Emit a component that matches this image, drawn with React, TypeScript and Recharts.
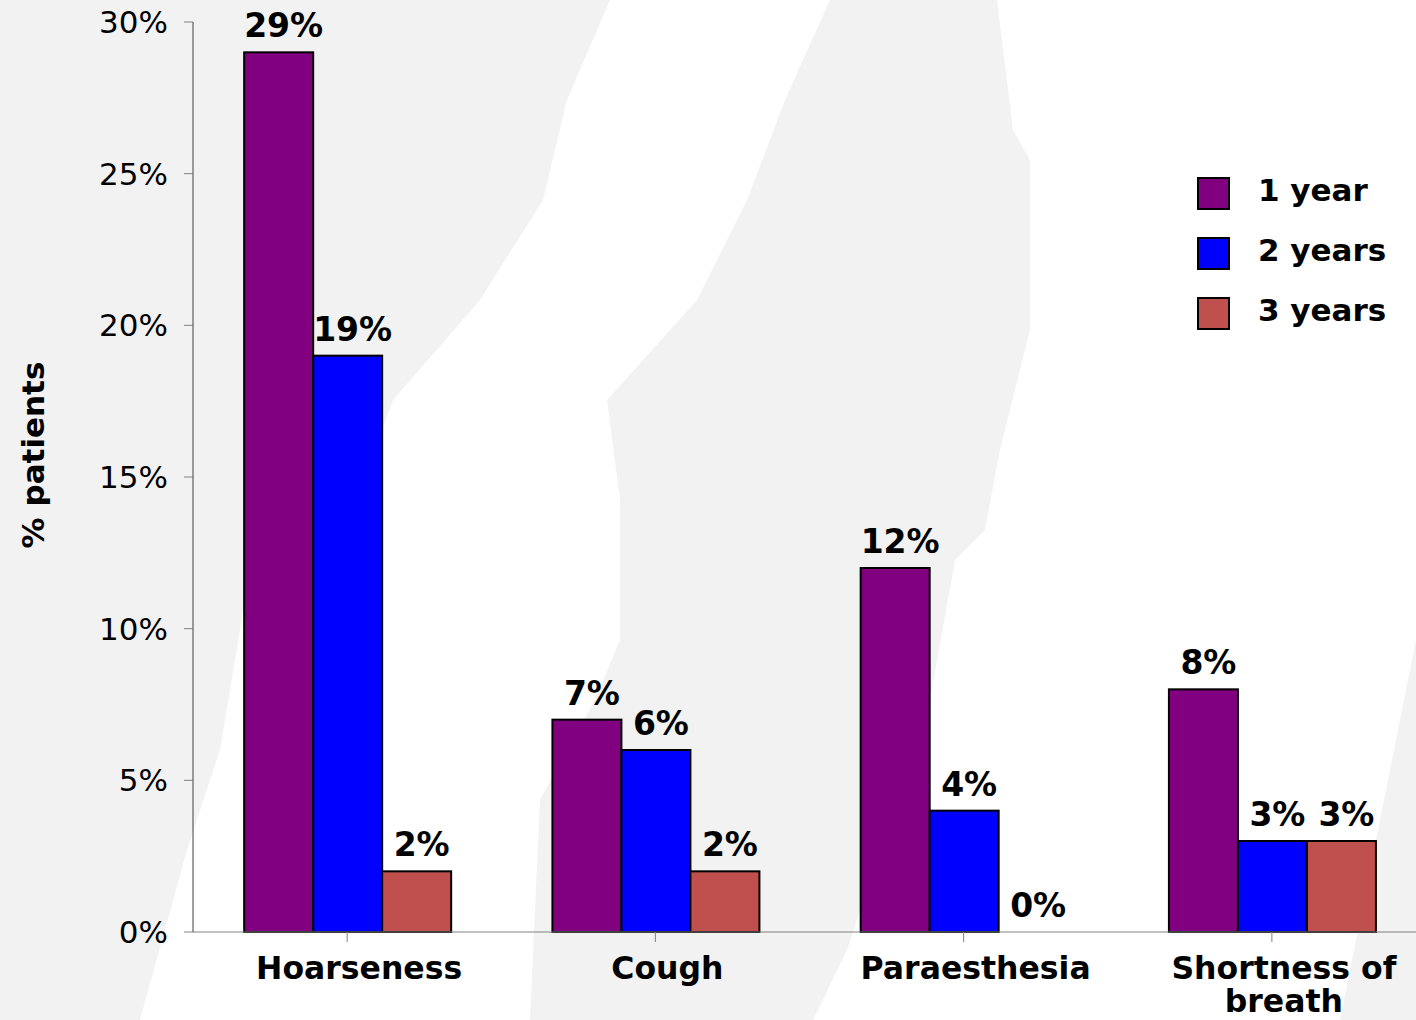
import React from "react";
import { BarChart, Bar, XAxis, YAxis } from "recharts";

const categories = ["Hoarseness", "Cough", "Paraesthesia", "Shortness of breath"];
const oneYear = [29, 7, 12, 8];
const twoYears = [19, 6, 4, 3];
const threeYears = [2, 2, 0, 3];
const yTicks = [0, 5, 10, 15, 20, 25, 30];

const series = [
  { key: "y1", name: "1 year", color: "#800080" },
  { key: "y2", name: "2 years", color: "#0000ff" },
  { key: "y3", name: "3 years", color: "#c0504d" },
];

const data = categories.map((c, i) => ({
  name: c,
  y1: oneYear[i],
  y2: twoYears[i],
  y3: threeYears[i],
}));

const FONT = "'DejaVu Sans', Verdana, sans-serif";

// long labels wrap before the last word
function splitLabel(s: string): string[] {
  if (s.length <= 14) return [s];
  const i = s.lastIndexOf(" ");
  return [s.slice(0, i), s.slice(i + 1)];
}

function CategoryTick(props: any) {
  const { x, y, payload } = props;
  const lines = splitLabel(String(payload.value));
  return (
    <text
      x={x + 12}
      y={y + 35}
      textAnchor="middle"
      fontFamily={FONT}
      fontWeight="bold"
      fontSize={31.5}
      fill="#000"
    >
      {lines.map((l, i) => (
        <tspan key={i} x={x + 12} dy={i === 0 ? 0 : 33}>
          {l}
        </tspan>
      ))}
    </text>
  );
}

// bar + value label drawn together so a 0% bar still gets its label
function makeShape(dataKey: string) {
  return function BarWithLabel(props: any) {
    const { x, y, width, height, fill, payload } = props;
    const value = payload[dataKey];
    const base = Number(y) + Number(height);
    const top = value > 0 ? Number(y) : base;
    return (
      <g>
        {value > 0 && (
          <rect x={x} y={y} width={width} height={height} fill={fill} stroke="#000" strokeWidth={2} />
        )}
        <text
          x={Number(x) + Number(width) / 2 + 5}
          y={top - 15}
          textAnchor="middle"
          fontFamily={FONT}
          fontWeight="bold"
          fontSize={33}
          fill="#000"
        >
          {value}%
        </text>
      </g>
    );
  };
}

function AxisTitle(props: any) {
  const { viewBox } = props;
  const cy = viewBox.y + viewBox.height / 2 - 22;
  return (
    <text
      x={33}
      y={cy}
      transform={`rotate(-90, 33, ${cy})`}
      textAnchor="middle"
      dominantBaseline="central"
      fontFamily={FONT}
      fontWeight="bold"
      fontSize={31}
      fill="#000"
    >
      % patients
    </text>
  );
}

function LegendBox() {
  return (
    <div
      style={{
        position: "absolute",
        left: 1197,
        top: 160,
        fontFamily: FONT,
        fontWeight: "bold",
        fontSize: 31,
        color: "#000",
      }}
    >
      {series.map((s) => (
        <div key={s.key} style={{ display: "flex", alignItems: "center", height: 60 }}>
          <div
            style={{
              width: 29,
              height: 29,
              background: s.color,
              border: "2px solid #000",
              marginRight: 28,
              marginTop: 6,
            }}
          />
          <span>{s.name}</span>
        </div>
      ))}
    </div>
  );
}

function Backdrop() {
  return (
    <svg width={1416} height={1020} style={{ position: "absolute", left: 0, top: 0 }}>
      <rect width={1416} height={1020} fill="#ffffff" />
      <polygon
        points="0,0 610,0 567,100 543,200 480,300 393,400 380,435 245,600 220,750 187,850 140,1020 0,1020"
        fill="#f2f2f2"
      />
      <polygon
        points="830,0 997,0 1013,130 1030,160 1030,330 1000,450 985,530 955,560 930,700 880,850 847,950 813,1020 530,1020 540,800 595,700 620,640 620,500 607,400 697,300 747,200 785,100"
        fill="#f2f2f2"
      />
      <polygon points="1416,640 1416,1020 1340,1020" fill="#f2f2f2" />
    </svg>
  );
}

export default function App() {
  return (
    <div
      style={{
        position: "fixed",
        left: 0,
        top: 0,
        width: 1416,
        height: 1020,
        overflow: "hidden",
        background: "#fff",
      }}
    >
      <Backdrop />
      <div style={{ position: "absolute", left: 0, top: 0 }}>
        <BarChart
          width={1440}
          height={1020}
          data={data}
          margin={{ top: 22, right: 14, left: 0, bottom: 8 }}
          barCategoryGap="16.6%"
          barGap={0}
        >
          <XAxis
            dataKey="name"
            height={80}
            stroke="#808080"
            tickSize={10}
            tickLine={{ stroke: "#808080" }}
            tick={<CategoryTick />}
            interval={0}
          />
          <YAxis
            width={193}
            domain={[0, 30]}
            ticks={yTicks}
            tickFormatter={(v: number) => `${v}%`}
            stroke="#404040"
            tickSize={9}
            tickMargin={16}
            tickLine={{ stroke: "#808080" }}
            tick={{ fontFamily: FONT, fontSize: 31, fill: "#000" }}
            label={<AxisTitle />}
          />
          {series.map((s) => (
            <Bar
              key={s.key}
              dataKey={s.key}
              name={s.name}
              fill={s.color}
              shape={makeShape(s.key)}
              isAnimationActive={false}
            />
          ))}
        </BarChart>
      </div>
      <LegendBox />
    </div>
  );
}
